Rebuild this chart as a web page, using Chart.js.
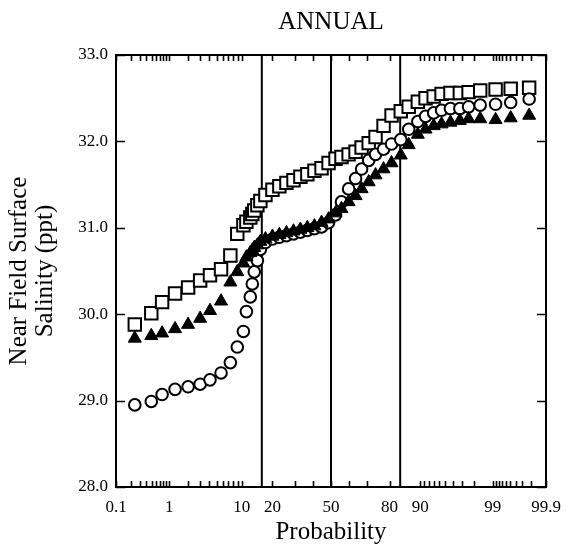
<!DOCTYPE html>
<html>
<head>
<meta charset="utf-8">
<script src="https://cdn.jsdelivr.net/npm/chart.js@4.4.1/dist/chart.umd.min.js"></script>
<style>
  html, body { margin: 0; padding: 0; background: #fff; }
  #wrap { width: 566px; height: 552px; }
</style>
</head>
<body>
<div id="wrap"><canvas id="c" width="566" height="552"></canvas></div>
<script>
// ---- Data (probability in percent, salinity in ppt) ----
const probabilities = [0.24, 0.49, 0.76, 1.25, 2.0, 3.0, 4.1, 5.7, 7.4, 8.9, 10.4, 11.2, 12.3, 12.9, 13.5, 14.5, 15.5, 17.3, 20.0, 22.9, 26.1, 29.5, 33.0, 36.7, 40.6, 44.6, 48.6, 52.6, 56.0, 60.0, 63.8, 67.0, 70.6, 73.9, 77.5, 80.8, 84.2, 86.8, 89.4, 91.3, 93.0, 94.4, 95.7, 96.8, 97.6, 98.4, 99.1, 99.51, 99.78];

const squareValues = [29.88, 30.01, 30.14, 30.24, 30.31, 30.39, 30.45, 30.52, 30.68, 30.93, 31.03, 31.07, 31.12, 31.16, 31.20, 31.26, 31.31, 31.38, 31.44, 31.48, 31.52, 31.55, 31.59, 31.62, 31.66, 31.69, 31.75, 31.80, 31.82, 31.85, 31.88, 31.93, 31.98, 32.05, 32.18, 32.30, 32.35, 32.40, 32.46, 32.50, 32.52, 32.55, 32.56, 32.56, 32.57, 32.59, 32.60, 32.61, 32.62];

const circleValues = [28.95, 28.99, 29.07, 29.13, 29.16, 29.19, 29.24, 29.32, 29.44, 29.62, 29.80, 30.03, 30.20, 30.35, 30.49, 30.62, 30.75, 30.83, 30.87, 30.89, 30.91, 30.93, 30.95, 30.97, 30.99, 31.01, 31.06, 31.15, 31.30, 31.45, 31.57, 31.68, 31.78, 31.85, 31.91, 31.97, 32.02, 32.14, 32.23, 32.29, 32.33, 32.36, 32.38, 32.38, 32.40, 32.42, 32.43, 32.45, 32.49];

const triangleValues = [29.72, 29.75, 29.78, 29.83, 29.88, 29.95, 30.04, 30.15, 30.37, 30.49, 30.59, 30.66, 30.71, 30.74, 30.77, 30.80, 30.84, 30.87, 30.90, 30.92, 30.94, 30.96, 30.98, 31.00, 31.02, 31.06, 31.10, 31.17, 31.22, 31.30, 31.37, 31.45, 31.53, 31.61, 31.68, 31.75, 31.84, 31.96, 32.08, 32.14, 32.18, 32.20, 32.22, 32.24, 32.26, 32.26, 32.25, 32.27, 32.30];

const xTickProbs  = [0.1, 1, 10, 20, 50, 80, 90, 99, 99.9];
const xTickLabels = ['0.1', '1', '10', '20', '50', '80', '90', '99', '99.9'];
const xMinorProbs = [0.2, 0.3, 0.4, 0.5, 0.6, 0.7, 0.8, 0.9, 2, 3, 4, 5, 6, 7, 8, 9, 30, 40, 60, 70,
                     91, 92, 93, 94, 95, 96, 97, 98, 99.1, 99.2, 99.3, 99.4, 99.5, 99.6, 99.7, 99.8];
const yTickValues = [28, 29, 30, 31, 32, 33];
const refLineProbs = [16, 50, 84];

// ---- inverse normal CDF (probability axis transform) ----
function probit(p) {
  const a = [-3.969683028665376e+01, 2.209460984245205e+02, -2.759285104469687e+02, 1.383577518672690e+02, -3.066479806614716e+01, 2.506628277459239e+00];
  const b = [-5.447609879822406e+01, 1.615858368580409e+02, -1.556989798598866e+02, 6.680131188771972e+01, -1.328068155288572e+01];
  const c = [-7.784894002430293e-03, -3.223964580411365e-01, -2.400758277161838e+00, -2.549732539343734e+00, 4.374664141464968e+00, 2.938163982698783e+00];
  const d = [7.784695709041462e-03, 3.224671290700398e-01, 2.445134137142996e+00, 3.754408661907416e+00];
  const pl = 0.02425, ph = 1 - pl;
  let q, r;
  if (p < pl) {
    q = Math.sqrt(-2 * Math.log(p));
    return (((((c[0]*q+c[1])*q+c[2])*q+c[3])*q+c[4])*q+c[5]) / ((((d[0]*q+d[1])*q+d[2])*q+d[3])*q+1);
  }
  if (p > ph) {
    q = Math.sqrt(-2 * Math.log(1 - p));
    return -(((((c[0]*q+c[1])*q+c[2])*q+c[3])*q+c[4])*q+c[5]) / ((((d[0]*q+d[1])*q+d[2])*q+d[3])*q+1);
  }
  q = p - 0.5; r = q * q;
  return (((((a[0]*r+a[1])*r+a[2])*r+a[3])*r+a[4])*r+a[5])*q / (((((b[0]*r+b[1])*r+b[2])*r+b[3])*r+b[4])*r+1);
}
const zOf = pct => probit(pct / 100);

const pts = vals => probabilities.map((p, i) => ({ x: zOf(p), y: vals[i] }));

const SERIF = "'Liberation Serif', 'Times New Roman', Times, serif";

const refDatasets = refLineProbs.map(p => ({
  type: 'line',
  data: [{ x: zOf(p), y: 28 }, { x: zOf(p), y: 33 }],
  borderColor: '#000',
  borderWidth: 2,
  pointRadius: 0,
  showLine: true,
  fill: false
}));

const frameTicks = {
  id: 'frameTicks',
  afterDraw(chart) {
    const { ctx, chartArea: a, scales: { x, y } } = chart;
    ctx.save();
    ctx.strokeStyle = '#000';
    ctx.lineWidth = 2;
    ctx.strokeRect(a.left, a.top, a.right - a.left, a.bottom - a.top);
    ctx.lineWidth = 1.6;
    ctx.beginPath();
    xTickProbs.concat(xMinorProbs).forEach(p => {
      const px = Math.round(x.getPixelForValue(zOf(p))) + 0.5;
      ctx.moveTo(px, a.bottom); ctx.lineTo(px, a.bottom - 6);
      ctx.moveTo(px, a.top); ctx.lineTo(px, a.top + 6);
    });
    yTickValues.forEach(v => {
      const py = Math.round(y.getPixelForValue(v)) + 0.5;
      ctx.moveTo(a.left, py); ctx.lineTo(a.left + 9, py);
      ctx.moveTo(a.right, py); ctx.lineTo(a.right - 9, py);
    });
    ctx.stroke();
    ctx.restore();
  }
};

const noPad = scale => { scale.paddingLeft = 0; scale.paddingRight = 0; scale.paddingTop = 0; scale.paddingBottom = 0; };

new Chart(document.getElementById('c'), {
  type: 'scatter',
  data: {
    datasets: [
      {
        label: 'Triangles',
        data: pts(triangleValues),
        pointStyle: 'triangle',
        pointRadius: 7.5,
        backgroundColor: '#000',
        borderColor: '#000',
        borderWidth: 1
      },
      {
        label: 'Circles',
        data: pts(circleValues),
        pointStyle: 'circle',
        pointRadius: 5.8,
        backgroundColor: '#fff',
        borderColor: '#000',
        borderWidth: 2
      },
      {
        label: 'Squares',
        data: pts(squareValues),
        pointStyle: 'rect',
        pointRadius: 8.8,
        backgroundColor: '#fff',
        borderColor: '#000',
        borderWidth: 2
      },
      ...refDatasets
    ]
  },
  options: {
    responsive: false,
    animation: false,
    devicePixelRatio: 1,
    layout: { padding: { left: 0, right: 20, top: 0, bottom: 0 } },
    plugins: {
      legend: { display: false },
      tooltip: { enabled: false },
      title: { display: false }
    },
    scales: {
      x: {
        type: 'linear',
        min: zOf(0.1),
        max: zOf(99.9),
        grid: { display: false, drawTicks: false },
        border: { display: false },
        afterBuildTicks: scale => { scale.ticks = xTickProbs.map(p => ({ value: zOf(p) })); },
        afterFit: scale => { scale.height = 65; noPad(scale); },
        ticks: {
          autoSkip: false,
          maxRotation: 0,
          minRotation: 0,
          padding: 10,
          color: '#000',
          font: { family: SERIF, size: 17 },
          callback: (v, i) => xTickLabels[i]
        },
        title: {
          display: true,
          text: 'Probability',
          color: '#000',
          font: { family: SERIF, size: 25 },
          padding: { top: 0, bottom: 5 }
        }
      },
      xTop: {
        type: 'linear',
        position: 'top',
        min: zOf(0.1),
        max: zOf(99.9),
        grid: { display: false, drawTicks: false },
        border: { display: false },
        ticks: { display: false },
        afterFit: scale => { scale.height = 55; noPad(scale); },
        title: {
          display: true,
          text: 'ANNUAL',
          color: '#000',
          font: { family: SERIF, size: 25 },
          padding: { top: 7, bottom: 0 }
        }
      },
      y: {
        min: 28,
        max: 33,
        grid: { display: false, drawTicks: false },
        border: { display: false },
        afterBuildTicks: scale => { scale.ticks = yTickValues.map(v => ({ value: v })); },
        afterFit: scale => { scale.width = 116; noPad(scale); },
        ticks: {
          padding: 8,
          color: '#000',
          font: { family: SERIF, size: 17 },
          callback: v => Number(v).toFixed(1)
        },
        title: {
          display: true,
          text: ['Near Field Surface', 'Salinity (ppt)'],
          color: '#000',
          font: { family: SERIF, size: 25, lineHeight: 1.05 },
          padding: { top: 6, bottom: 0 }
        }
      }
    }
  },
  plugins: [frameTicks]
});
</script>
</body>
</html>
